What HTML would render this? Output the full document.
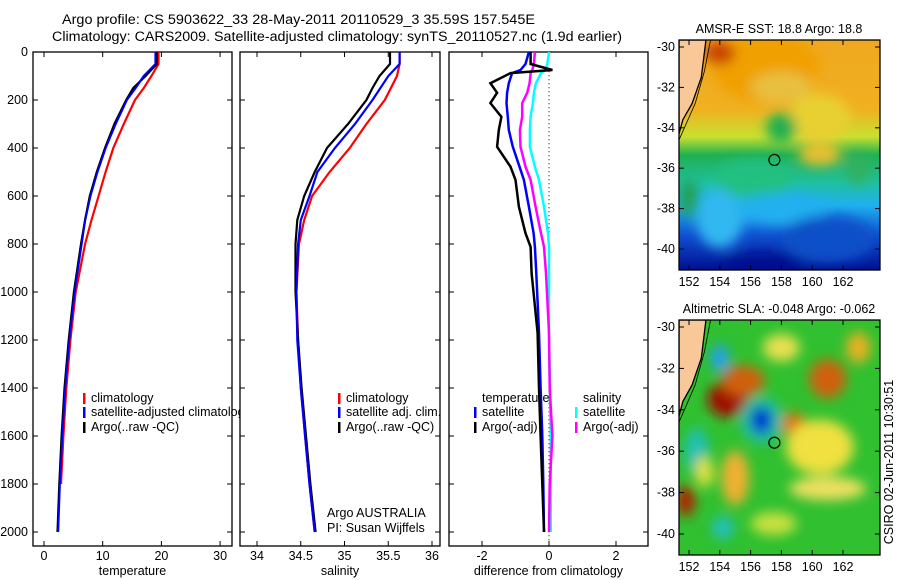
<!DOCTYPE html>
<html><head><meta charset="utf-8"><style>
body{margin:0;background:#fff;}
svg{display:block;font-family:"Liberation Sans",sans-serif;}
text{font-size:12.5px;fill:#000;}
</style></head><body>
<svg id="c" width="900" height="580" viewBox="0 0 900 580">
<defs>
<filter id="bl" x="-20%" y="-20%" width="140%" height="140%"><feGaussianBlur stdDeviation="6"/></filter>
<clipPath id="m1"><rect x="679" y="40" width="201" height="230"/></clipPath>
<clipPath id="m2"><rect x="679" y="320" width="201" height="235"/></clipPath>
<clipPath id="legclip"><rect x="0" y="0" width="240" height="580"/></clipPath>
<linearGradient id="sstg" x1="0" y1="0" x2="0" y2="1">
<stop offset="0" stop-color="#f0a820"/><stop offset="0.3" stop-color="#f0b020"/><stop offset="0.42" stop-color="#c8e030"/>
<stop offset="0.5" stop-color="#20b050"/><stop offset="0.62" stop-color="#20c0a0"/><stop offset="0.72" stop-color="#20b0f0"/>
<stop offset="0.85" stop-color="#1050d0"/><stop offset="1" stop-color="#001090"/></linearGradient>
</defs>
<text x="62" y="24" textLength="473" lengthAdjust="spacingAndGlyphs" style="font-size:13.5px">Argo profile: CS 5903622_33 28-May-2011 20110529_3 35.59S 157.545E</text>
<text x="52" y="41" textLength="570" lengthAdjust="spacingAndGlyphs" style="font-size:13.5px">Climatology: CARS2009. Satellite-adjusted climatology: synTS_20110527.nc (1.9d earlier)</text>
<g id="maps"></g>
<g id="plots"></g>
<text transform="translate(893,462) rotate(-90)" text-anchor="middle">CSIRO 02-Jun-2011 10:30:51</text>
</svg>
<script>
const depths=[0,50,100,150,200,300,400,500,600,700,800,1000,1200,1400,1600,1800,2000];
const tempClim=[19.5,19.5,18.3,17,15.5,13.6,11.8,10.5,9.3,8.1,7.0,5.4,4.5,3.8,3.3,2.9,null];
const tempSat=[19.0,19.0,17.0,15.6,14.1,12.2,10.5,9.1,7.9,7.0,6.4,5.2,4.3,3.6,3.1,2.7,2.4];
const tempArgo=[19.2,19.2,17.3,15.2,14.0,12.0,10.4,9.0,7.8,7.0,6.3,5.1,4.2,3.5,3.0,2.6,2.3];
const salClim=[35.63,35.63,35.6,35.53,35.46,35.25,35.06,34.83,34.63,34.54,34.48,34.45,34.47,34.5,34.55,34.6,34.66];
const salSat=[35.63,35.63,35.5,35.41,35.32,35.12,34.89,34.69,34.6,34.5,34.47,34.45,34.46,34.5,34.55,34.6,34.66];
const salArgo=[35.52,35.52,35.4,35.32,35.25,35.04,34.8,34.66,34.54,34.46,34.44,34.44,34.47,34.51,34.56,34.61,34.67];
const dDepths=[0,50,75,88,130,170,213,270,325,395,478,533,645,755,812,922,1170,1400,1600,1800,2000];
const dTempArgo=[-0.55,-0.55,0.1,-1.15,-1.75,-1.55,-1.75,-1.42,-1.5,-1.55,-1.15,-1.0,-0.9,-0.7,-0.55,-0.52,-0.34,-0.3,-0.25,-0.2,-0.15];
const dTempSat=[-0.6,-0.7,-0.85,-1.1,-1.2,-1.25,-1.27,-1.23,-1.2,-1.08,-0.88,-0.75,-0.6,-0.46,-0.42,-0.38,-0.3,-0.25,-0.2,-0.17,-0.15];
const dSalArgo=[-0.42,-0.45,-0.5,-0.55,-0.58,-0.65,-0.8,-0.8,-0.87,-0.85,-0.7,-0.55,-0.4,-0.24,-0.15,-0.09,0,0.02,0.1,0.02,0];
const dSalSat=[0,-0.05,-0.1,-0.24,-0.39,-0.45,-0.48,-0.55,-0.57,-0.57,-0.42,-0.3,-0.15,-0.03,0,0,0,0.03,0.05,0.05,0.05];
const yTicks=[0,200,400,600,800,1000,1200,1400,1600,1800,2000];
const tTicks=[0,10,20,30], sTicks=[34,34.5,35,35.5,36], dTicks=[-2,0,2];
const NS='http://www.w3.org/2000/svg';
const plots=document.getElementById('plots');
const Y=d=>52+d*0.24;
function mk(tag,attrs,parent){const e=document.createElementNS(NS,tag);for(const k in attrs)e.setAttribute(k,attrs[k]);(parent||plots).appendChild(e);return e;}
const panels=[
 {x0:33,x1:232,X:v=>44+v*5.87,ticks:tTicks,label:'temperature',name:'temperature'},
 {x0:240,x1:440,X:v=>257+(v-34)*87.5,ticks:sTicks,label:'salinity',name:'salinity'},
 {x0:449,x1:648,X:v=>549+v*33.5,ticks:dTicks,label:'difference from climatology',name:'difference'}];
panels.forEach((p,i)=>{
 const g=mk('g',{});
 
 
 const r=mk('rect',{x:p.x0,y:52,width:p.x1-p.x0,height:494,fill:'none',stroke:'#000','stroke-width':1.3},g);
 
 
 yTicks.forEach(d=>{
  mk('line',{x1:p.x0,x2:p.x0+5,y1:Y(d),y2:Y(d),stroke:'#000'},g);
  mk('line',{x1:p.x1,x2:p.x1-5,y1:Y(d),y2:Y(d),stroke:'#000'},g);
  if(i==0){const t=mk('text',{x:28,y:Y(d)+4,'text-anchor':'end'},g);t.textContent=d;
   
   }
 });
 p.ticks.forEach(v=>{
  const x=p.X(v);
  mk('line',{x1:x,x2:x,y1:52,y2:57,stroke:'#000'},g);
  mk('line',{x1:x,x2:x,y1:546,y2:541,stroke:'#000'},g);
  const t=mk('text',{x:x,y:560,'text-anchor':'middle'},g);t.textContent=v;
  
  
 });
 const lb=mk('text',{x:(p.x0+p.x1)/2,y:575,'text-anchor':'middle'},g);lb.textContent=p.label;
 
 
});
function line(p,ds,vs,color,name,w){
 let pts=[];ds.forEach((d,k)=>{if(vs[k]!=null)pts.push(p.X(vs[k]).toFixed(1)+','+Y(d).toFixed(1));});
 const l=mk('polyline',{points:pts.join(' '),fill:'none',stroke:color,'stroke-width':w||2.2});
 
 
}
const P=panels;
const zl=mk('line',{x1:P[2].X(0),x2:P[2].X(0),y1:Y(80),y2:546,stroke:'#000','stroke-dasharray':'1,3'});


line(P[0],depths,tempClim,'#f00','temp-climatology-line');
line(P[0],depths,tempSat,'#00f','temp-satellite-line');
line(P[0],depths,tempArgo,'#000','temp-argo-line');
line(P[0],depths,tempSat,'#00f','temp-satellite-line-top',1.6);
line(P[1],depths,salClim,'#f00','sal-climatology-line');
line(P[1],depths,salArgo,'#000','sal-argo-line');
line(P[1],depths,salSat,'#00f','sal-satellite-line');
line(P[2],dDepths,dSalSat,'#0ff','diff-sal-satellite-line',2.5);
line(P[2],dDepths,dSalArgo,'#f0f','diff-sal-argo-line',2.5);
line(P[2],dDepths,dTempSat,'#00f','diff-temp-satellite-line',2.5);
line(P[2],dDepths,dTempArgo,'#000','diff-temp-argo-line',2.5);
function leg(x,y,color,txt,name,clip){
 if(color){const m=mk('rect',{x:x,y:y-9,width:2.5,height:11,fill:color});
  
  }
 const t=mk('text',{x:x+8,y:y});t.textContent=txt;
 if(clip)t.setAttribute('clip-path','url(#legclip)');
 
 
}
leg(83,402,'#f00','climatology','legend-temp-climatology',1);
leg(83,416,'#00f','satellite-adjusted climatology','legend-temp-satellite',1);
leg(83,431,'#000','Argo(..raw -QC)','legend-temp-argo',1);
leg(338,402,'#f00','climatology','legend-sal-climatology');
leg(338,416,'#00f','satellite adj. clim.','legend-sal-satellite');
leg(338,431,'#000','Argo(..raw -QC)','legend-sal-argo');
leg(474,402,null,'temperature','legend-diff-temp-heading');
leg(575,402,null,'salinity','legend-diff-sal-heading');
leg(474,416,'#00f','satellite','legend-diff-temp-satellite');
leg(474,431,'#000','Argo(-adj)','legend-diff-temp-argo');
leg(575,416,'#0ff','satellite','legend-diff-sal-satellite');
leg(575,431,'#f0f','Argo(-adj)','legend-diff-sal-argo');
const a1=mk('text',{x:327,y:517});a1.textContent='Argo AUSTRALIA';

const a2=mk('text',{x:327,y:532});a2.textContent='PI: Susan Wijffels';


const maps=document.getElementById('maps');
const latTicks=[-30,-32,-34,-36,-38,-40], lonTicks=[152,154,156,158,160,162];
const sstBlobs=[[157,-31,3.5,1.8,'#f0a000'],[154,-30.3,1.0,0.6,'#c84000'],[158,-32,2,0.8,'#e8c040'],[160.5,-33.5,2,1.2,'#e8d030'],[158,-34,1.0,0.8,'#20b050'],[156.2,-36.5,2.5,1,'#20c080'],[160.5,-35.3,1.4,0.6,'#e8c030'],[154,-38.5,1.5,1.5,'#30b8f0'],[158,-38,3,0.8,'#20b0f0'],[161,-39.5,3,1.2,'#1050c8'],[157,-41,3,0.8,'#000890'],[163,-36,0.8,0.8,'#30b060'],[152,-37.5,0.6,1,'#20a050']];
const slaBlobs=[[154.5,-33.5,1.3,0.9,'#a01000'],[155.5,-32.6,1.4,0.8,'#d06010'],[161,-32.5,1.2,1.0,'#d06010'],[158.8,-34.7,0.8,0.6,'#e07010'],[160.5,-35.8,2.2,1.4,'#f0e040'],[161,-37.8,2.5,0.6,'#f0e060'],[156.7,-34.5,1.4,1.2,'#20c0a0'],[156.7,-34.5,0.7,0.7,'#0030d0'],[154,-31.5,0.6,0.7,'#20a0f0'],[155,-37.3,0.9,1.4,'#f0b030'],[151.8,-38.4,0.6,0.8,'#b02000'],[154.2,-39.7,0.7,0.6,'#20c0c0'],[158,-31,1.2,0.7,'#e8e050'],[163,-31,0.8,0.8,'#e8b020'],[152.5,-36,0.8,1.2,'#20c0b0'],[157.5,-39.5,1.5,0.6,'#c8e040'],[153,-37,0.6,0.8,'#e0e040']];
function drawMap(top,bot,clip,bg,blobs,title,name){
 const g=document.createElementNS(NS,'g');maps.appendChild(g);
 
 
 const LX=lon=>689+(lon-152)*15.4, LY=lat=>top+7+(-30-lat)*((bot-top-28)/10);
 const inner=mk('g',{'clip-path':'url(#'+clip+')'},g);
 mk('rect',{x:679,y:top,width:201,height:bot-top,fill:bg},inner);
 const bg2=mk('g',{filter:'url(#bl)'},inner);
 blobs.forEach(b=>mk('ellipse',{cx:LX(b[0]),cy:LY(b[1]),rx:b[2]*15.4,ry:b[3]*19.5,fill:b[4]},bg2));
 mk('polygon',{points:[679,top,LX(153.1),top,LX(152.8),LY(-31.5),LX(152.2),LY(-32.8),LX(151.6),LY(-33.6),679,LY(-34.3)].join(' '),fill:'#f9c898',stroke:'#000','stroke-width':1.3},inner);
 mk('polyline',{points:[LX(153.4),top,LX(153.0),LY(-31.2),LX(152.4),LY(-32.8),679,LY(-34.6)].join(' '),fill:'none',stroke:'#000','stroke-width':0.8},inner);
 const c=mk('circle',{cx:LX(157.545),cy:LY(-35.59),r:5.5,fill:'none',stroke:'#000','stroke-width':1.2},g);
 
 
 mk('rect',{x:679,y:top,width:201,height:bot-top,fill:'none',stroke:'#000','stroke-width':1.3},g);
 latTicks.forEach(l=>{mk('line',{x1:679,x2:684,y1:LY(l),y2:LY(l),stroke:'#000'},g);mk('line',{x1:880,x2:875,y1:LY(l),y2:LY(l),stroke:'#000'},g);
  const t=mk('text',{x:675,y:LY(l)+4,'text-anchor':'end'},g);t.textContent=l;
  });
 lonTicks.forEach(l=>{mk('line',{x1:LX(l),x2:LX(l),y1:bot,y2:bot-5,stroke:'#000'},g);mk('line',{x1:LX(l),x2:LX(l),y1:top,y2:top+5,stroke:'#000'},g);
  const t=mk('text',{x:LX(l),y:bot+16,'text-anchor':'middle'},g);t.textContent=l;
  });
 const tt=mk('text',{x:779,y:top-7,'text-anchor':'middle'},g);tt.textContent=title;
 
}
drawMap(40,270,'m1','url(#sstg)',sstBlobs,'AMSR-E SST: 18.8 Argo: 18.8','sst-map');
drawMap(320,555,'m2','#30c030',slaBlobs,'Altimetric SLA: -0.048 Argo: -0.062','sla-map');
</script>
</body></html>
